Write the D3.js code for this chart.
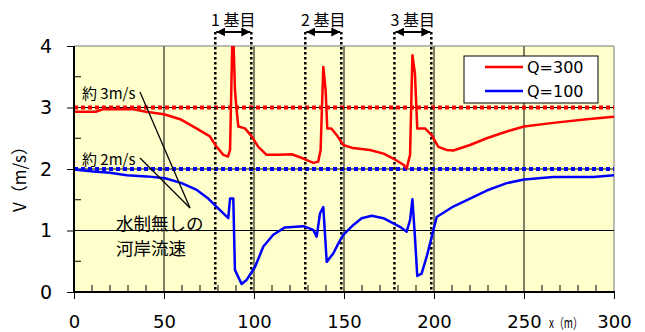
<!DOCTYPE html>
<html>
<script src='https://d3js.org/d3.v7.min.js'></script>
<style>
 body {margin:0; background:#fff;}
 text {font-family: 'DejaVu Sans', Verdana, sans-serif;}
 .jp {font-family: 'Noto Sans CJK JP', sans-serif;}
</style>
<body onload='init()'>
<svg width=645 height=332></svg>
<script>

// red curve: Q=300
var redX = [0,12,16,33,40,50,59,68,75.5,79,83,85.5,86.7,87.6,88,88.6,89.4,90.2,91.3,95,98.7,102.4,107,114,121,127.4,133,135.7,137,138.5,139.8,140.7,143,146,149.6,155,164.4,172,177.4,183,184.8,186.7,188,189.4,190.7,195,198.7,202.4,207,210.7,220,229.3,240.4,250,266.3,284.8,300];
var redY = [2.93,2.93,2.97,2.97,2.93,2.89,2.81,2.66,2.53,2.37,2.23,2.2,2.31,3.6,4.1,4.1,3.3,3.0,2.69,2.66,2.53,2.36,2.23,2.23,2.24,2.17,2.1,2.12,2.31,3.66,3.28,2.66,2.66,2.55,2.39,2.34,2.31,2.25,2.17,2.07,2.01,2.23,3.85,3.56,2.66,2.66,2.55,2.36,2.31,2.3,2.39,2.5,2.61,2.69,2.75,2.81,2.85];

// blue curve: Q=100
var blueX = [0,10.7,20,29.3,40.4,50.6,59.8,68.2,74.6,81.1,85.7,86.7,88.5,89.4,93.1,96,100.6,105.2,110.7,117.2,127.4,132.9,134.8,136.7,138.5,140.4,144.1,146.9,149.6,155.2,159.8,165.4,171.9,181.1,184.8,186.7,188,189.4,190.7,193.1,195.9,197.8,201.5,210.7,220,229.3,240.4,250,266.3,288.5,300];
var blueY = [1.99,1.96,1.94,1.9,1.88,1.85,1.77,1.66,1.52,1.33,1.2,1.52,1.52,0.36,0.13,0.2,0.41,0.74,0.93,1.05,1.07,1.01,0.9,1.28,1.38,0.49,0.63,0.79,0.93,1.09,1.2,1.24,1.2,1.06,0.98,1.17,1.51,0.9,0.26,0.3,0.57,0.79,1.22,1.39,1.52,1.65,1.77,1.83,1.87,1.87,1.9];

var groynes = [[78.5,98.5],[128.5,148.5],[178,198.5]];
var groyneLabels = ['1 基目','2 基目','3 基目'];
var xTicks = [0,50,100,150,200,250,300];
var yTicks = [0,1,2,3,4];
var seriesNames = ['Q=300','Q=100'];
var seriesColors = ['#ff0000','#0000ff'];
var refLevels = [3,2];

function init() {
 var svg = d3.select('svg');
 var x = d3.scaleLinear().domain([0,300]).range([74,614]);
 var y = d3.scaleLinear().domain([0,4]).range([292,46]);

 svg.append('defs').append('clipPath').attr('id','clip')
  .append('rect').attr('x',74).attr('y',46).attr('width',540).attr('height',246);
 var defs = svg.select('defs');
 defs.append('marker').attr('id','ah').attr('viewBox','0 0 10 10').attr('refX',10).attr('refY',5)
  .attr('markerWidth',4.5).attr('markerHeight',4.5).attr('orient','auto-start-reverse')
  .append('path').attr('d','M0,0L10,5L0,10Z').attr('fill','#000');

 // background
 svg.append('rect').attr('x',74).attr('y',46).attr('width',540).attr('height',246).attr('fill','#ffffcc');

 // grid
 svg.append('g').selectAll('line').data(xTicks.slice(1)).enter().append('line')
  .attr('x1',d=>x(d)).attr('x2',d=>x(d)).attr('y1',46).attr('y2',292)
  .attr('stroke',d=>d==300?'#777':'#000').attr('stroke-width',1);
 svg.append('g').selectAll('line').data(yTicks.slice(1)).enter().append('line')
  .attr('x1',74).attr('x2',614).attr('y1',d=>y(d)).attr('y2',d=>y(d))
  .attr('stroke',d=>d==4?'#777':'#000').attr('stroke-width',1);

 // reference levels
 svg.append('g').selectAll('line').data(refLevels).enter().append('line')
  .attr('x1',74).attr('x2',614).attr('y1',d=>y(d)).attr('y2',d=>y(d))
  .attr('stroke',(d,i)=>seriesColors[i]).attr('stroke-width',4).attr('stroke-dasharray','4,3');

 // groyne dotted lines
 var gg = svg.append('g');
 groynes.forEach(function(p,i){
  p.forEach(function(v){
   gg.append('line').attr('x1',x(v)).attr('x2',x(v)).attr('y1',32).attr('y2',292)
    .attr('stroke','#000').attr('stroke-width',2.5).attr('stroke-dasharray','2.5,2.5');
  });
  gg.append('line').attr('x1',x(p[0])+1).attr('x2',x(p[1])-1).attr('y1',32).attr('y2',32)
   .attr('stroke','#000').attr('stroke-width',2)
   .attr('marker-start','url(#ah)').attr('marker-end','url(#ah)');
  gg.append('text').attr('class','jp').attr('x',(x(p[0])+x(p[1]))/2).attr('y',26)
   .attr('text-anchor','middle').attr('font-size',16).text(groyneLabels[i]);
 });

 // curves
 var line = d3.line().x(d=>x(d[0])).y(d=>y(d[1]));
 var cg = svg.append('g').attr('clip-path','url(#clip)');
 cg.append('path').datum(redX.map((v,i)=>[v,redY[i]])).attr('d',line)
  .attr('fill','none').attr('stroke',seriesColors[0]).attr('stroke-width',2.5).attr('stroke-linejoin','round');
 cg.append('path').datum(blueX.map((v,i)=>[v,blueY[i]])).attr('d',line)
  .attr('fill','none').attr('stroke',seriesColors[1]).attr('stroke-width',2.5).attr('stroke-linejoin','round');

 // axes
 var yAxis = svg.append('g').attr('transform','translate(74,0)')
  .call(d3.axisLeft(y).tickValues(yTicks).tickSize(7).tickFormat(d3.format('d')));
 yAxis.select('.domain').remove();
 yAxis.selectAll('text').attr('font-size',19).attr('x',-22).style('font-family','DejaVu Sans');
 svg.append('g').selectAll('line').data(d3.range(0.5,4,1)).enter().append('line')
  .attr('x1',74).attr('x2',81).attr('y1',d=>y(d)).attr('y2',d=>y(d)).attr('stroke','#000');

 var xAxis = svg.append('g').attr('transform','translate(0,292)')
  .call(d3.axisBottom(x).tickValues(xTicks).tickSize(7).tickFormat(d3.format('d')));
 xAxis.select('.domain').remove();
 xAxis.selectAll('text').attr('font-size',18).attr('y',23).style('font-family','DejaVu Sans');
 svg.append('g').selectAll('line').data(d3.range(10,300,10).filter(d=>d%50)).enter().append('line')
  .attr('x1',d=>x(d)).attr('x2',d=>x(d)).attr('y1',285).attr('y2',292).attr('stroke','#000');

 svg.append('line').attr('x1',74).attr('x2',74).attr('y1',46).attr('y2',293).attr('stroke','#000').attr('stroke-width',2);
 svg.append('line').attr('x1',73).attr('x2',615).attr('y1',292).attr('y2',292).attr('stroke','#000').attr('stroke-width',2);

 // axis titles
 svg.append('text').attr('class','jp').attr('transform','translate(26,175) rotate(-90)')
  .attr('text-anchor','middle').attr('font-size',17).text('V（m/s）');
 svg.append('text').attr('class','jp').attr('x',549).attr('y',328)
  .attr('font-size',14).attr('textLength',34).attr('lengthAdjust','spacingAndGlyphs').text('x（m）');

 // legend
 var lg = svg.append('g');
 lg.append('rect').attr('x',464).attr('y',56).attr('width',134).attr('height',47)
  .attr('fill','#fff').attr('stroke','#000');
 seriesNames.forEach(function(n,i){
  var yy = 67 + i*24;
  lg.append('line').attr('x1',485).attr('x2',523).attr('y1',yy).attr('y2',yy)
   .attr('stroke',seriesColors[i]).attr('stroke-width',2.5);
  lg.append('text').attr('x',527).attr('y',yy+6).attr('font-size',16).text(n);
 });

 // annotations
 var ag = svg.append('g');
 ag.append('text').attr('class','jp').attr('x',82).attr('y',99).attr('font-size',15).text('約 3m/s');
 ag.append('text').attr('class','jp').attr('x',82).attr('y',165).attr('font-size',15).text('約 2m/s');
 ag.append('line').attr('x1',140).attr('y1',92).attr('x2',190).attr('y2',208).attr('stroke','#000').attr('stroke-width',1.3);
 ag.append('line').attr('x1',140).attr('y1',158).attr('x2',190).attr('y2',208).attr('stroke','#000').attr('stroke-width',1.3);
 ag.append('text').attr('class','jp').attr('x',116).attr('y',230).attr('font-size',17.5).text('水制無しの');
 ag.append('text').attr('class','jp').attr('x',116).attr('y',255).attr('font-size',17.5).text('河岸流速');
}

</script>
</body>
</html>
